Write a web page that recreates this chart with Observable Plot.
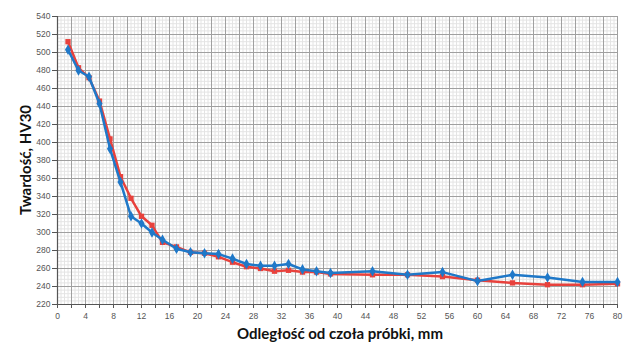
<!DOCTYPE html>
<html><head><meta charset="utf-8">
<script src="https://cdn.jsdelivr.net/npm/d3@7"></script>
<script src="https://cdn.jsdelivr.net/npm/@observablehq/plot@0.6"></script>
<style>
body{margin:0;background:#fff;}
#c{position:relative;width:624px;height:347px;}
.yt{position:absolute;left:25px;top:160px;transform:translate(-50%,-50%) rotate(-90deg);font:bold 15px Lato, "Liberation Sans", sans-serif;color:#111;white-space:nowrap;}
.xt{position:absolute;left:340px;top:333px;transform:translate(-50%,-50%);font:bold 15px Lato, "Liberation Sans", sans-serif;color:#111;white-space:nowrap;}
</style></head>
<body><div id="c"></div>
<script>
const distance = [1.5, 3, 4.5, 6, 7.5, 9, 10.5, 12, 13.5, 15, 17, 19, 21, 23, 25, 27, 29, 31, 33, 35, 37, 39, 45, 50, 55, 60, 65, 70, 75, 80];
const redHV = [512, 483, 472, 446, 404, 362, 338, 318, 308, 289, 284, 278, 277, 273, 267, 262, 260, 257, 258, 256, 256, 254, 253, 253, 251, 247, 244, 242, 242, 243];
const blueHV = [503, 480, 473, 443, 393, 356, 318, 310, 300, 292, 282, 278, 277, 276, 271, 265, 263, 263, 265, 259, 257, 255, 257, 253, 256, 246, 253, 250, 245, 245];
const xTicks = [0, 4, 8, 12, 16, 20, 24, 28, 32, 36, 40, 44, 48, 52, 56, 60, 64, 68, 72, 76, 80];
const yTicks = [220, 240, 260, 280, 300, 320, 340, 360, 380, 400, 420, 440, 460, 480, 500, 520, 540];
const xTitle = "Odległość od czoła próbki, mm";
const yTitle = "Twardość, HV30";

const red = distance.map((d, i) => ({x: d, y: redHV[i]}));
const blue = distance.map((d, i) => ({x: d, y: blueHV[i]}));
const minorX = d3.range(0, 80.01, 0.5);
const minorY = d3.range(220, 540.01, 4);
const majorX = d3.range(0, 80.01, 2);
const majorY = yTicks;
const RED = "#e8413c", BLUE = "#1f78c8";
const tickFont = "'Liberation Sans Narrow', 'Liberation Sans', sans-serif";

const chart = Plot.plot({
  width: 624, height: 347,
  marginLeft: 57, marginRight: 7, marginTop: 16, marginBottom: 43,
  x: {domain: [0, 80], label: null},
  y: {domain: [220, 540], label: null},
  style: {background: "#fff"},
  marks: [
    Plot.ruleX(minorX, {stroke: "#e4e4e4", strokeWidth: 1}),
    Plot.ruleY(minorY, {stroke: "#e4e4e4", strokeWidth: 1}),
    Plot.ruleX(majorX, {stroke: "#a0a0a0", strokeWidth: 1}),
    Plot.ruleY(majorY, {stroke: "#a0a0a0", strokeWidth: 1}),
    Plot.axisX({ticks: majorX, tickSize: 4, tickFormat: () => "", stroke: "#555", label: null}),
    Plot.axisX({ticks: xTicks, tickSize: 0, tickPadding: 8, fontSize: 8.5, fill: "#555", fontFamily: tickFont, label: null}),
    Plot.axisY({ticks: yTicks, tickSize: 5, tickPadding: 2, fontSize: 8.5, fill: "#555", stroke: "#555", fontFamily: tickFont, label: null}),
    Plot.ruleX([0], {stroke: "#555", strokeWidth: 1.2}),
    Plot.ruleY([220], {stroke: "#555", strokeWidth: 1.2}),
    Plot.line(red, {x: "x", y: "y", stroke: RED, strokeWidth: 2.5}),
    Plot.dot(red, {x: "x", y: "y", symbol: "square", r: 3, fill: RED}),
    Plot.line(blue, {x: "x", y: "y", stroke: BLUE, strokeWidth: 2.5}),
    Plot.dot(blue, {x: "x", y: "y", symbol: "diamond", r: 3.2, fill: BLUE})
  ]
});
const c = document.getElementById("c");
c.appendChild(chart);
const yt = document.createElement("div"); yt.className = "yt"; yt.textContent = yTitle; c.appendChild(yt);
const xt = document.createElement("div"); xt.className = "xt"; xt.textContent = xTitle; c.appendChild(xt);
</script>
</body></html>
